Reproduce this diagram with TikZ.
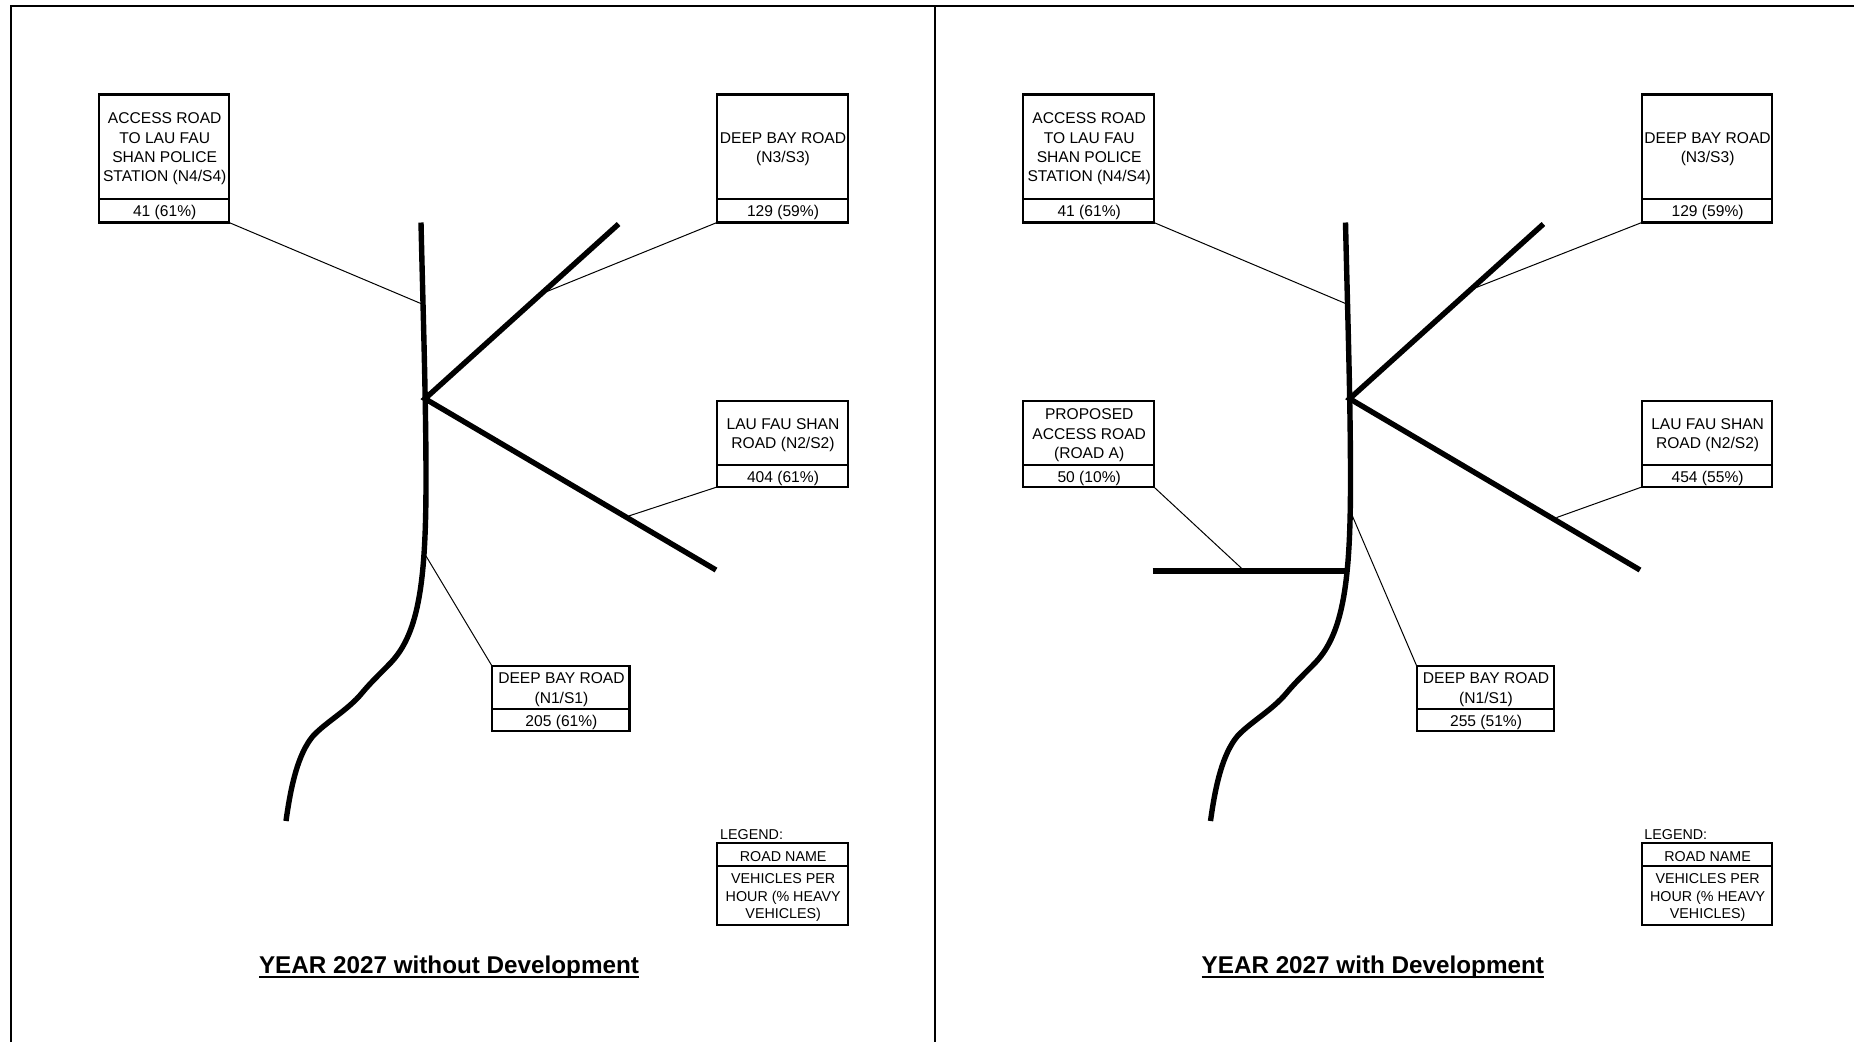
\documentclass[tikz,border=0pt]{standalone}
\usepackage{fontspec}
\setmainfont{Liberation Sans}
\newcommand{\ttl}[1]{\setbox0\hbox{#1}\rlap{\vrule width \wd0 height -2.6pt depth 4.8pt}\box0 }
\newcommand{\tx}[1]{\kern0.7pt\raisebox{-2.2pt}[\height][\depth]{\begin{tabular}{@{}c@{}}#1\end{tabular}}\kern-0.7pt}
\newcommand{\mainroadpath}{(421,222.5) .. controls (423,310) and (426,400) .. (426,480) .. controls (426,580) and (419,632) .. (391.7,661.7) .. controls (380,674) and (372,681) .. (362,693) .. controls (348,710) and (326,722) .. (313,736) .. controls (298,754) and (291,785) .. (286,821)}
\tikzset{
  x=1pt,y=-1pt,
  frameline/.style={line width=2pt,black},
  road/.style={line width=5.4pt,black,line join=miter},
  leader/.style={line width=1pt,black},
  cell/.style={draw=black,line width=2.2pt,anchor=north west,inner sep=0pt,outer sep=0pt,font=\fontsize{15.6}{19.3}\selectfont,text=black},
  lgd/.style={cell,font=\fontsize{14.3}{17.7}\selectfont},
  title/.style={font=\fontsize{24.25}{28}\selectfont\bfseries,inner sep=0pt,anchor=base,text=black},
  legendlabel/.style={font=\fontsize{14.3}{17}\selectfont,inner sep=0pt,anchor=base west,text=black}
}
\begin{document}
\begin{tikzpicture}
\useasboundingbox (0,0) rectangle (1854,1042);
\fill[white] (0,0) rectangle (1854,1042);
\draw[frameline] (11,1042) -- (11,6) -- (1854,6);
\draw[frameline] (935,6) -- (935,1042);

% ---------- left panel ----------
\draw[road] \mainroadpath;
\coordinate (L3e) at (618.6,224);
\coordinate (Lj) at (425,398.7);
\coordinate (L2e) at (716,570);
\draw[road] (L3e) -- (Lj) -- (L2e);

\node[cell,minimum width=130pt,minimum height=104.5pt] (La) at (99,94.5) {\tx{ACCESS ROAD\\TO LAU FAU\\SHAN POLICE\\STATION (N4/S4)}};
\node[cell,minimum width=130pt,minimum height=23.5pt] (Lav) at (99,199) {\tx{41 (61\%)}};
\node[cell,minimum width=130.6pt,minimum height=104.5pt] (Lb) at (717,94.5) {\tx{DEEP BAY ROAD\\(N3/S3)}};
\node[cell,minimum width=130.6pt,minimum height=23.5pt] (Lbv) at (717,199) {\tx{129 (59\%)}};
\node[cell,minimum width=130.6pt,minimum height=64pt] (Lc) at (717,401) {\tx{LAU FAU SHAN\\ROAD (N2/S2)}};
\node[cell,minimum width=130.6pt,minimum height=22pt] (Lcv) at (717,465) {\tx{404 (61\%)}};
\node[cell,minimum width=137.5pt,minimum height=43pt] (Ld) at (492,666) {\tx{DEEP BAY ROAD\\(N1/S1)}};
\node[cell,minimum width=137.5pt,minimum height=22pt] (Ldv) at (492,709) {\tx{205 (61\%)}};

\coordinate (Lp1) at (422,304);
\coordinate (Lp2) at (545.7,292);
\coordinate (Lp3) at (628.7,516);
\coordinate (Lp4) at (426,556);
\draw[leader] (Lav.south east) -- (Lp1);
\draw[leader] (Lbv.south west) -- (Lp2);
\draw[leader] (Lcv.south west) -- (Lp3);
\draw[leader] (Ld.north west) -- (Lp4);

\node[legendlabel] (Ll) at (720,839) {LEGEND:};
\node[lgd,minimum width=131pt,minimum height=23pt] (Ln) at (717,842.7) {\raisebox{-1.5pt}[\height][\depth]{\tx{ROAD NAME}}};
\node[lgd,minimum width=131pt,minimum height=59.3pt] (Lm) at (717,865.7) {\tx{VEHICLES PER\\HOUR (\% HEAVY\\VEHICLES)}};
\node[title] (Lt) at (449,973.3) {\ttl{YEAR 2027 without Development}};

% ---------- right panel ----------
\draw[road,xshift=924.5pt] \mainroadpath;
\coordinate (R3e) at (1543.4,224);
\coordinate (Rj) at (1349.6,398.7);
\coordinate (R2e) at (1640,570);
\draw[road] (R3e) -- (Rj) -- (R2e);
\coordinate (Rae) at (1152.7,571);
\coordinate (Raj) at (1347.2,571);
\draw[road] (Rae) -- (Raj);

\node[cell,minimum width=130.8pt,minimum height=104.5pt] (Ra) at (1023.1,94.5) {\tx{ACCESS ROAD\\TO LAU FAU\\SHAN POLICE\\STATION (N4/S4)}};
\node[cell,minimum width=130.8pt,minimum height=23.5pt] (Rav) at (1023.1,199) {\tx{41 (61\%)}};
\node[cell,minimum width=130.2pt,minimum height=104.5pt] (Rb) at (1641.8,94.5) {\tx{DEEP BAY ROAD\\(N3/S3)}};
\node[cell,minimum width=130.2pt,minimum height=23.5pt] (Rbv) at (1641.8,199) {\tx{129 (59\%)}};
\node[cell,minimum width=130.2pt,minimum height=64pt] (Rc) at (1641.8,401) {\tx{LAU FAU SHAN\\ROAD (N2/S2)}};
\node[cell,minimum width=130.2pt,minimum height=22pt] (Rcv) at (1641.8,465) {\tx{454 (55\%)}};
\node[cell,minimum width=130.8pt,minimum height=64pt] (Re) at (1023.1,401) {\tx{PROPOSED\\ACCESS ROAD\\(ROAD A)}};
\node[cell,minimum width=130.8pt,minimum height=22pt] (Rev) at (1023.1,465) {\tx{50 (10\%)}};
\node[cell,minimum width=137.3pt,minimum height=43pt] (Rd) at (1416.7,666) {\tx{DEEP BAY ROAD\\(N1/S1)}};
\node[cell,minimum width=137.3pt,minimum height=22pt] (Rdv) at (1416.7,709) {\tx{255 (51\%)}};

\coordinate (Rp1) at (1346,303.7);
\coordinate (Rp2) at (1475,288);
\coordinate (Rp3) at (1556.4,517.6);
\coordinate (Rp4) at (1350.5,511.6);
\coordinate (Rp5) at (1242.3,569);
\draw[leader] (Rav.south east) -- (Rp1);
\draw[leader] (Rbv.south west) -- (Rp2);
\draw[leader] (Rcv.south west) -- (Rp3);
\draw[leader] (Rd.north west) -- (Rp4);
\draw[leader] (Rev.south east) -- (Rp5);

\node[legendlabel] (Rl) at (1644.2,839) {LEGEND:};
\node[lgd,minimum width=130.2pt,minimum height=23pt] (Rn) at (1641.8,842.7) {\raisebox{-1.5pt}[\height][\depth]{\tx{ROAD NAME}}};
\node[lgd,minimum width=130.2pt,minimum height=59.3pt] (Rm) at (1641.8,865.7) {\tx{VEHICLES PER\\HOUR (\% HEAVY\\VEHICLES)}};
\node[title] (Rt) at (1372.8,973.3) {\ttl{YEAR 2027 with Development}};
\end{tikzpicture}
\end{document}
